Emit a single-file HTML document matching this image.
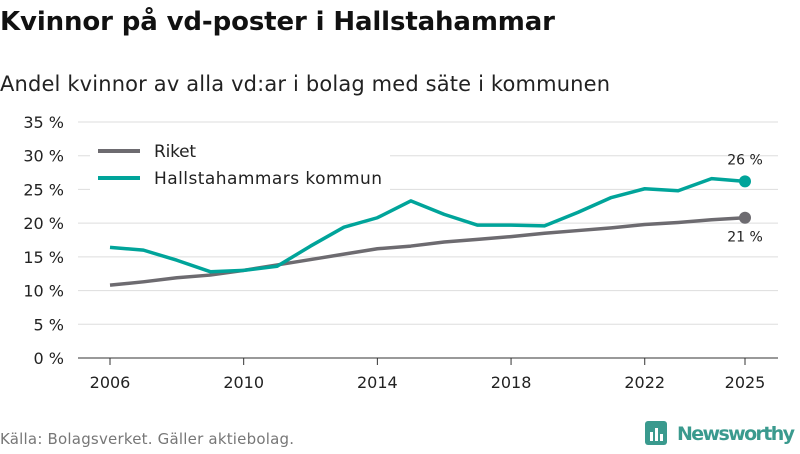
<!DOCTYPE html>
<html><head><meta charset="utf-8"><style>
body{margin:0;background:#fff;font-family:"DejaVu Sans","Liberation Sans",sans-serif;}
svg text{font-family:"DejaVu Sans","Liberation Sans",sans-serif;}
</style></head><body>
<svg id="c" width="800" height="450">
<text x="0" y="30" font-size="26" font-weight="bold" fill="#111" textLength="555">Kvinnor på vd-poster i Hallstahammar</text>
<text x="0" y="91" font-size="21" fill="#222" textLength="610">Andel kvinnor av alla vd:ar i bolag med säte i kommunen</text>
<g id="grid"></g><g id="axes"></g><g id="lines"></g>
<g>
<rect x="90" y="135" width="300" height="58" fill="#fff"/>
<line x1="98" y1="151" x2="140" y2="151" stroke="#6d6b70" stroke-width="4"/>
<text x="154" y="157" font-size="17" fill="#222" textLength="42">Riket</text>
<line x1="98" y1="178" x2="140" y2="178" stroke="#00a49a" stroke-width="4"/>
<text x="154" y="184" font-size="17" fill="#222" textLength="228">Hallstahammars kommun</text>
</g>
<text x="0" y="444" font-size="15" fill="#777" textLength="294">Källa: Bolagsverket. Gäller aktiebolag.</text>
<g>
<rect x="645" y="421" width="22" height="24" rx="3" fill="#3a9a8e"/>
<rect x="650" y="432" width="3" height="9" fill="#fff"/><rect x="655" y="428" width="3" height="13" fill="#fff"/><rect x="660" y="434" width="3" height="7" fill="#fff"/>
<text x="677" y="440" font-size="19" font-weight="bold" fill="#3a9a8e" textLength="118">Newsworthy</text>
</g>
</svg>
<script>
const years=[2006,2007,2008,2009,2010,2011,2012,2013,2014,2015,2016,2017,2018,2019,2020,2021,2022,2023,2024,2025];
const riket=[10.8,11.3,11.9,12.3,13.0,13.8,14.6,15.4,16.2,16.6,17.2,17.6,18.0,18.5,18.9,19.3,19.8,20.1,20.5,20.8];
const hallsta=[16.4,16.0,14.5,12.8,13.0,13.6,16.6,19.4,20.8,23.3,21.3,19.7,19.7,19.6,21.6,23.8,25.1,24.8,26.6,26.2];
const yTicks=[0,5,10,15,20,25,30,35];
const xTicks=[2006,2010,2014,2018,2022,2025];
const NS='http://www.w3.org/2000/svg';
const x=v=>110+(v-2006)*(745-110)/19;
const y=v=>358-v*(358-122)/35;
function mk(p,t,a){const e=document.createElementNS(NS,t);for(const k in a)e.setAttribute(k,a[k]);document.getElementById(p).appendChild(e);return e;}
yTicks.forEach(t=>{
 const l=mk('grid','line',{x1:78,x2:778,y1:y(t),y2:y(t),stroke:t===0?'#333':'#ddd','stroke-width':1});
 
 
 const tx=mk('axes','text',{x:64,y:y(t)+6,'font-size':16,'text-anchor':'end',fill:'#222'});tx.textContent=t+' %';
 
 
});
xTicks.forEach(t=>{
 const l=mk('axes','line',{x1:x(t),x2:x(t),y1:358,y2:365,stroke:'#333'});
 
 
 const tx=mk('axes','text',{x:x(t),y:388,'font-size':16,'text-anchor':'middle',fill:'#222'});tx.textContent=t;
 
 
});
function series(vals,col,name,dy){
 const p=mk('lines','path',{d:vals.map((v,i)=>(i?'L':'M')+x(years[i])+','+y(v)).join(''),fill:'none',stroke:col,'stroke-width':3.5,'stroke-linejoin':'round'});
 
 
 const last=vals.length-1;
 const c=mk('lines','circle',{cx:x(years[last]),cy:y(vals[last]),r:6,fill:col});
 
 
 const t=mk('lines','text',{x:x(years[last]),y:y(vals[last])+dy,'font-size':14,'text-anchor':'middle',fill:'#222'});
 t.textContent=Math.round(vals[last])+' %';
 
 
}
series(riket,'#6d6b70','riket',24);
series(hallsta,'#00a49a','hallsta',-17);
</script>
</body></html>
